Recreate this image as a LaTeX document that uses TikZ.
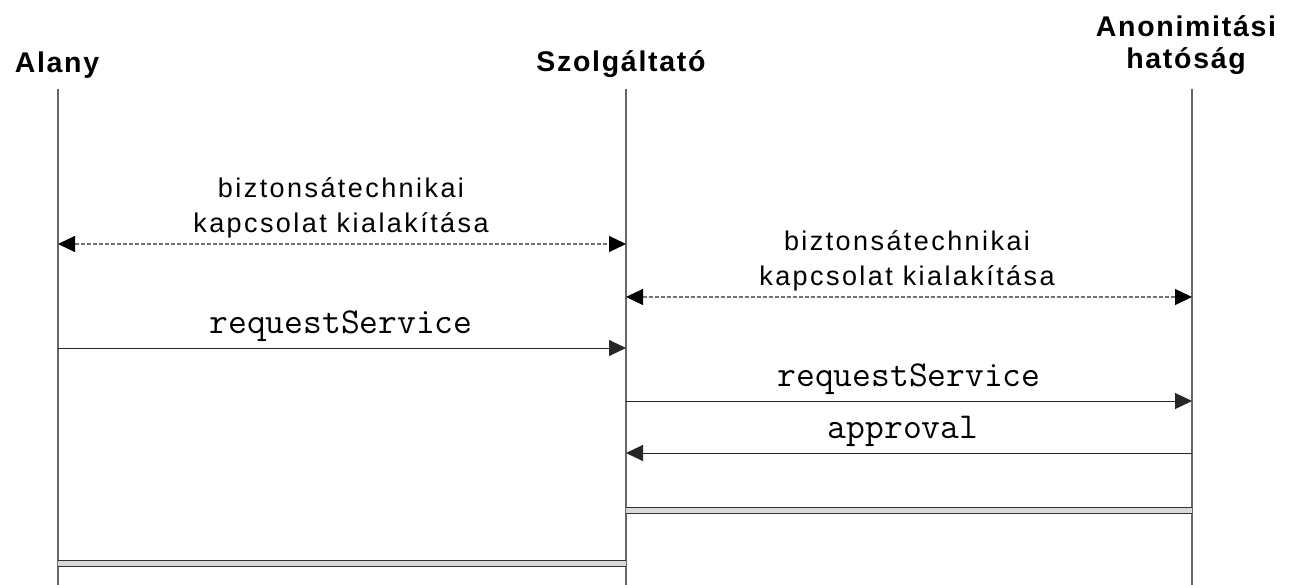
\documentclass[tikz,border=0pt]{standalone}
\usepackage{fontspec}
\setmainfont{Liberation Sans}
\newfontfamily\headfont[LetterSpace=6]{Liberation Sans}
\newfontfamily\notefont[LetterSpace=9]{Liberation Sans}
\usetikzlibrary{arrows.meta}

\begin{document}
\begin{tikzpicture}[x=1pt, y=-1pt,
  lifeline/.style={draw=black!60, line width=1.3pt},
  msg/.style={draw=black!85, line width=1pt, -{Triangle[length=17pt,width=16pt]}},
  secure/.style={draw=black!55, line width=1.2pt, dash pattern=on 4pt off 2pt,
    {Triangle[length=17pt,width=16pt,fill=black,color=black]}-{Triangle[length=17pt,width=16pt,fill=black,color=black]}},
  done/.style={draw=black!80, line width=1pt, double=black!15, double distance=5pt},
  actor/.style={font=\headfont\bfseries\fontsize{28.5}{32}\selectfont, anchor=base, inner sep=0pt, align=center},
  note/.style={font=\notefont\fontsize{27}{35}\selectfont, anchor=base, inner sep=0pt, align=center},
  call/.style={font=\ttfamily\fontsize{36.5}{38}\selectfont, anchor=base, inner sep=0pt}]

\useasboundingbox (0,0) rectangle (1298,585);

% participants (a multi-line node sits on the baseline of its last line)
\node[actor] (alany) at (57,73) {Alany};
\node[actor] (szolg) at (621,72) {Szolgáltató};
\node[actor] (anon)  at (1186,69) {Anonimitási\\hatóság};

% lifelines
\coordinate (A-top) at (58,89);   \coordinate (A-bot) at (58,585);
\coordinate (S-top) at (626,89);  \coordinate (S-bot) at (626,585);
\coordinate (N-top) at (1192,89); \coordinate (N-bot) at (1192,585);
\draw[lifeline] (A-top) -- (A-bot);
\draw[lifeline] (S-top) -- (S-bot);
\draw[lifeline] (N-top) -- (N-bot);

% message anchors on the lifelines
\coordinate (a1) at (58,244);  \coordinate (s1) at (626,244);
\coordinate (s2) at (626,297); \coordinate (n2) at (1192,297);
\coordinate (a3) at (58,348);  \coordinate (s3) at (626,348);
\coordinate (s4) at (626,401); \coordinate (n4) at (1192,401);
\coordinate (n5) at (1192,453);\coordinate (s5) at (626,453);
\coordinate (s6) at (626,510.5);\coordinate (n6) at (1192,510.5);
\coordinate (a7) at (58,563.5); \coordinate (s7) at (626,563.5);

% secure channel setup
\draw[secure] (a1) -- (s1);
\node[note] (t1) at (341,233) {biztonsátechnikai\\kapcsolat kialakítása};
\draw[secure] (s2) -- (n2);
\node[note] (t2) at (907,286) {biztonsátechnikai\\kapcsolat kialakítása};

% requests
\draw[msg] (a3) -- (s3);
\node[call] (t3) at (341,333) {requestService};
\draw[msg] (s4) -- (n4);
\node[call] (t4) at (909,386) {requestService};
\draw[msg] (n5) -- (s5);
\node[call] (t5) at (903,438) {approval};

% completion bars
\draw[done] (s6) -- (n6);
\draw[done] (a7) -- (s7);
\end{tikzpicture}
\end{document}
